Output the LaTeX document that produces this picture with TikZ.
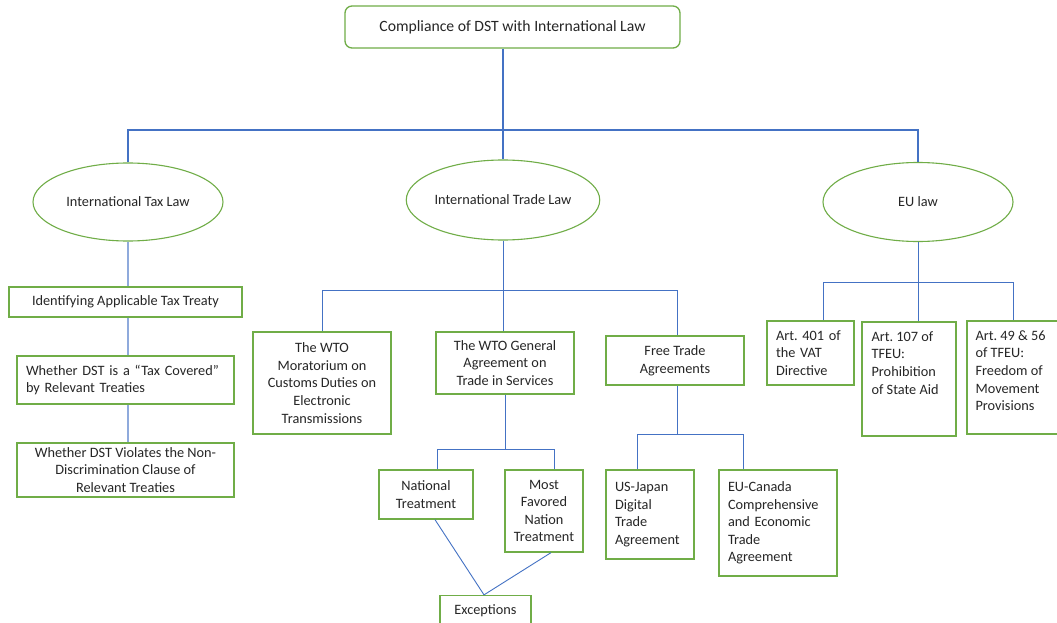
\documentclass[tikz,border=0pt]{standalone}
\usepackage{fontspec}
\setmainfont{Carlito}
\usetikzlibrary{shapes.geometric,calc}
\definecolor{gr}{HTML}{70AD47}
\definecolor{bl}{HTML}{4472C4}
\definecolor{lb}{HTML}{8FAADC}
\frenchspacing
\begin{document}
\begin{tikzpicture}[x=1pt,y=-1pt,
  every node/.style={font=\fontsize{14.3}{17.6}\selectfont, text=black!85},
  gbox/.style={draw=gr, line width=1.3pt, rectangle, inner sep=0pt, align=center},
  lbox/.style={gbox, align=left, inner xsep=9pt},
  gell/.style={draw=gr, line width=1.1pt, ellipse, inner sep=0pt},
  txt/.style={inner sep=0pt, align=left},
  mainln/.style={draw=bl, line width=1.8pt},
  subln/.style={draw=bl, line width=0.9pt},
  taxln/.style={draw=lb, line width=1.3pt}]
\useasboundingbox (0,0) rectangle (1057,623);
\clip (0,0) rectangle (1057,623);
\fill[white] (0,0) rectangle (1057,623);

% top
\node[gbox, rounded corners=7pt, minimum width=335pt, minimum height=42pt,
  font=\fontsize{15.7}{19}\selectfont] (top) at (512.5,27) {Compliance of DST with International Law};

% ellipses
\node[gell, minimum width=190pt, minimum height=78pt] (tax) at (128,202) {International Tax Law};
\node[gell, minimum width=192pt, minimum height=80pt] (trade) at (503,200) {International Trade Law};
\node[gell, minimum width=190pt, minimum height=79pt] (eu) at (918,202) {EU law};

\coordinate (j0) at (503,130);
\draw[mainln] (top.south -| j0) -- (trade.north);
\draw[mainln] (tax.north) -- (tax.north |- j0) -- (eu.north |- j0) -- (eu.north);

% tax column
\node[gbox, minimum width=233pt, minimum height=30pt] (id) at (125.5,302) {Identifying Applicable Tax Treaty};
\node[lbox, minimum width=217pt, minimum height=48pt, text width=199pt] (cov) at (125.5,380)
  {Whether DST is a “Tax Covered”\\by Relevant Treaties};
\node[gbox, minimum width=217pt, minimum height=54pt] (viol) at (125.5,470)
  {Whether DST Violates the Non-\\Discrimination Clause of\\Relevant Treaties};
\draw[taxln] (tax.south) -- (tax.south |- id.north);
\draw[taxln] (id.south -| tax.south) -- (cov.north -| tax.south);
\draw[taxln] (cov.south -| tax.south) -- (viol.north -| tax.south);

% trade column
\node[gbox, minimum width=138pt, minimum height=102pt] (wto) at (322,383)
  {The WTO\\Moratorium on\\Customs Duties on\\Electronic\\Transmissions};
\node[gbox, minimum width=138pt, minimum height=62pt] (gats) at (505,363)
  {The WTO General\\Agreement on\\Trade in Services};
\node[gbox, minimum width=138pt, minimum height=49pt] (fta) at (675,360.5)
  {Free Trade\\Agreements};
\coordinate (tb) at (503,290);
\coordinate (ftaj) at (677,290);
\draw[subln] (trade.south) -- (tb |- gats.north);
\draw[subln] (wto.north) -- (wto.north |- tb) -- (ftaj) -- (ftaj |- fta.north);

\node[gbox, minimum width=94pt, minimum height=49pt] (nt) at (426,494.5) {National\\Treatment};
\node[gbox, minimum width=78pt, minimum height=82pt] (mfn) at (544,511) {Most\\Favored\\Nation\\Treatment};
\node[gbox, minimum width=91pt, minimum height=28pt, text depth=0pt] (exc) at (485.5,609.5) {Exceptions};
\coordinate (gj) at (505,449);
\coordinate (gjL) at (437,449);
\coordinate (gjR) at (554,449);
\draw[subln] (gats.south -| gj) -- (gj);
\draw[subln] (gjL |- nt.north) -- (gjL) -- (gjR) -- (gjR |- mfn.north);
\draw[subln] ($(nt.south)+(9,0)$) -- ($(exc.north)+(-1.5,0)$);
\draw[subln] ($(mfn.south)+(7,0)$) -- ($(exc.north)+(-1.5,0)$);

\node[lbox, minimum width=88pt, minimum height=89pt, text width=70pt] (usj) at (650,514.5)
  {US-Japan\\Digital\\Trade\\Agreement};
\node[lbox, minimum width=118pt, minimum height=106pt, text width=100pt] (euc) at (778,523)
  {EU-Canada\\Comprehensive\\and Economic\\Trade\\Agreement};
\coordinate (fj) at (677,434);
\coordinate (fjL) at (637,434);
\coordinate (fjR) at (743,434);
\draw[subln] (fta.south -| fj) -- (fj);
\draw[subln] (fjL |- usj.north) -- (fjL) -- (fjR) -- (fjR |- euc.north);

% EU column
\node[lbox, minimum width=87pt, minimum height=64pt, text width=69pt] (a401) at (810.5,353)
  {Art. 401 of\\the VAT\\Directive};
\node[gbox, minimum width=94pt, minimum height=114pt] (a107) at (909,379) {};
\node[txt, anchor=north west] (a107t) at ($(a107.north west)+(10,10)$)
  {Art. 107 of\\TFEU:\\Prohibition\\of State Aid};
\node[gbox, minimum width=110pt, minimum height=113pt] (a49) at (1022,377.5) {};
\node[txt, anchor=north west] (a49t) at ($(a49.north west)+(9,10)$)
  {Art. 49 \& 56\\of TFEU:\\Freedom of\\Movement\\Provisions};
\coordinate (ej) at (918,282);
\coordinate (ejL) at (823,282);
\coordinate (ejR) at (1013,282);
\draw[subln] (eu.south) -- (ej) -- (ej |- a107.north);
\draw[subln] (ejL |- a401.north) -- (ejL) -- (ejR) -- (ejR |- a49.north);
\end{tikzpicture}
\end{document}
